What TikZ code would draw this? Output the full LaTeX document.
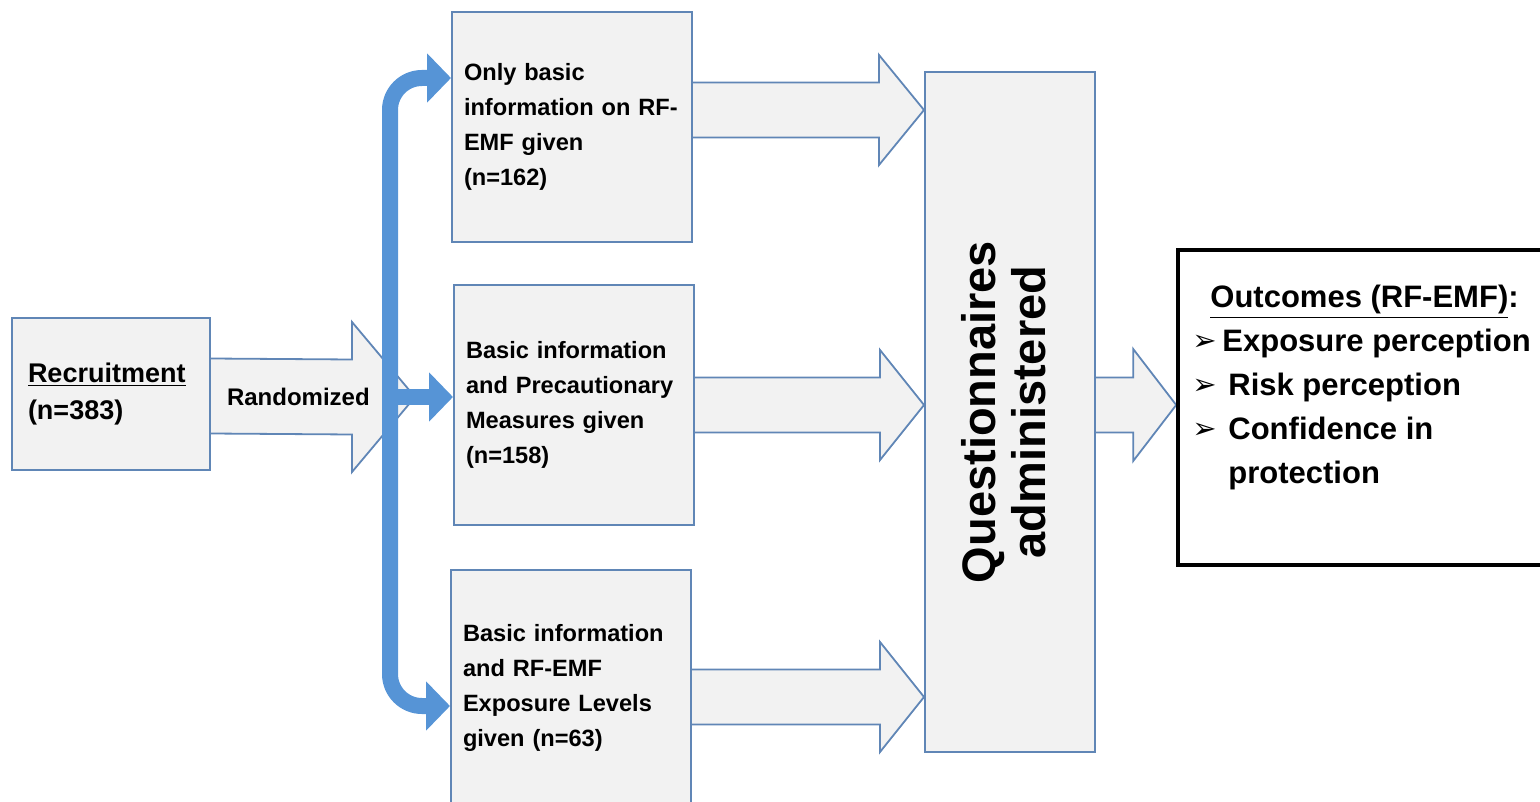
\documentclass[tikz,border=0pt]{standalone}
\usepackage{fontspec}
\usepackage{graphicx}
\setmainfont{Liberation Sans}
\newfontfamily\dingfont{DejaVu Sans}
\usetikzlibrary{arrows.meta, calc, backgrounds}
\definecolor{boxfill}{RGB}{242,242,242}
\definecolor{boxline}{RGB}{96,134,182}
\definecolor{splitblue}{RGB}{86,148,214}
\tikzset{
  stagebox/.style = {draw=boxline, line width=1pt, fill=boxfill, align=left,
                     inner xsep=6pt, text width=108pt,
                     font=\fontsize{11.8}{17.5}\selectfont\bfseries},
  fatarr/.style   = {draw=boxline, line width=0.9pt, fill=boxfill, line join=miter},
  splitarr/.style = {-{Triangle[width=24pt,length=12pt]}, line width=8pt,
                     draw=splitblue, rounded corners=16pt},
  outbox/.style   = {draw=black, line width=1.8pt, fill=white},
  lbl/.style      = {font=\fontsize{12}{17.5}\selectfont\bfseries},
}
\newcommand{\tick}{\raisebox{0.5pt}{\dingfont\fontsize{14.5}{14.5}\selectfont ➢}}
% block arrow: tail point, tip point, half shaft, half head, head length (px)
\newcommand{\fatarrow}[5]{%
  \path (#1) coordinate (fa-t) (#2) coordinate (fa-h);
  \filldraw[fatarr] ($(fa-t)+(0,-#3)$) -- ($(fa-h)+(-#5,-#3)$)
    -- ($(fa-h)+(-#5,-#4)$) -- (fa-h) -- ($(fa-h)+(-#5,#4)$)
    -- ($(fa-h)+(-#5,#3)$) -- ($(fa-t)+(0,#3)$);
}

\begin{document}
\begin{tikzpicture}[x=0.5pt, y=-0.5pt]
  \useasboundingbox (0,0) rectangle (1540,802);

  % boxes
  \node[stagebox, text width=83pt, inner xsep=8pt, minimum height=76pt,
        font=\fontsize{13.5}{18.5}\selectfont\bfseries] (rec) at (111,394)
        {\underline{Recruitment}\\(n=383)};
  \node[stagebox, minimum height=115pt] (b1) at (572,127)
        {Only basic\\information on RF-\\EMF given\\(n=162)};
  \node[stagebox, minimum height=120pt] (b2) at (574,405)
        {Basic information\\and Precautionary\\Measures given\\(n=158)};
  \node[stagebox, minimum height=118pt] (b3) at (571,688)
        {Basic information\\and RF-EMF\\Exposure Levels\\given (n=63)};
  \node[draw=boxline, line width=1pt, fill=boxfill, minimum width=85pt,
        minimum height=340pt, inner sep=0pt] (qa) at (1010,412)
        {\rotatebox{90}{\fontsize{23.5}{25}\selectfont\bfseries
         \begin{tabular}{@{}c@{}}Questionnaires\\administered\end{tabular}}};
  \node[outbox, minimum width=191pt, minimum height=157.5pt] (out) at (1369,407.5) {};
  \node[anchor=north west, inner sep=0pt, align=left,
        font=\fontsize{15.5}{22}\selectfont\bfseries] (outlist) at (1192,285)
        {\hspace*{9pt}\underline{Outcomes (RF-EMF)}:\\
         \makebox[15pt][l]{\tick}Exposure perception\\
         \makebox[18pt][l]{\tick}Risk perception\\
         \makebox[18pt][l]{\tick}Confidence in\\
         \hspace*{18pt}protection};
  \node[lbl, anchor=west] (randlbl) at (220,397) {Randomized};

  \coordinate (split) at (390,397);
  \coordinate (randtip) at (415,397);

  % block arrows
  \begin{scope}[on background layer]
    \fatarrow{rec.east |- 0,396}{randtip}{37.5}{75}{63}
    \fatarrow{b1.east |- 0,110}{qa.west |- 0,110}{27.5}{55}{45}
    \fatarrow{b2.east |- 0,405}{qa.west |- 0,405}{27.5}{55}{44}
    \fatarrow{b3.east |- 0,697}{qa.west |- 0,697}{27.5}{55}{44}
    \fatarrow{qa.east |- 0,405}{out.west |- 0,405}{27.5}{56}{43}
  \end{scope}

  % randomisation
  \draw[splitarr] (split) |- (b1.west |- 0,78);
  \draw[splitarr] (split) |- (b3.west |- 0,706);
  \draw[splitarr] (split) -- (b2.west |- split);
\end{tikzpicture}
\end{document}
